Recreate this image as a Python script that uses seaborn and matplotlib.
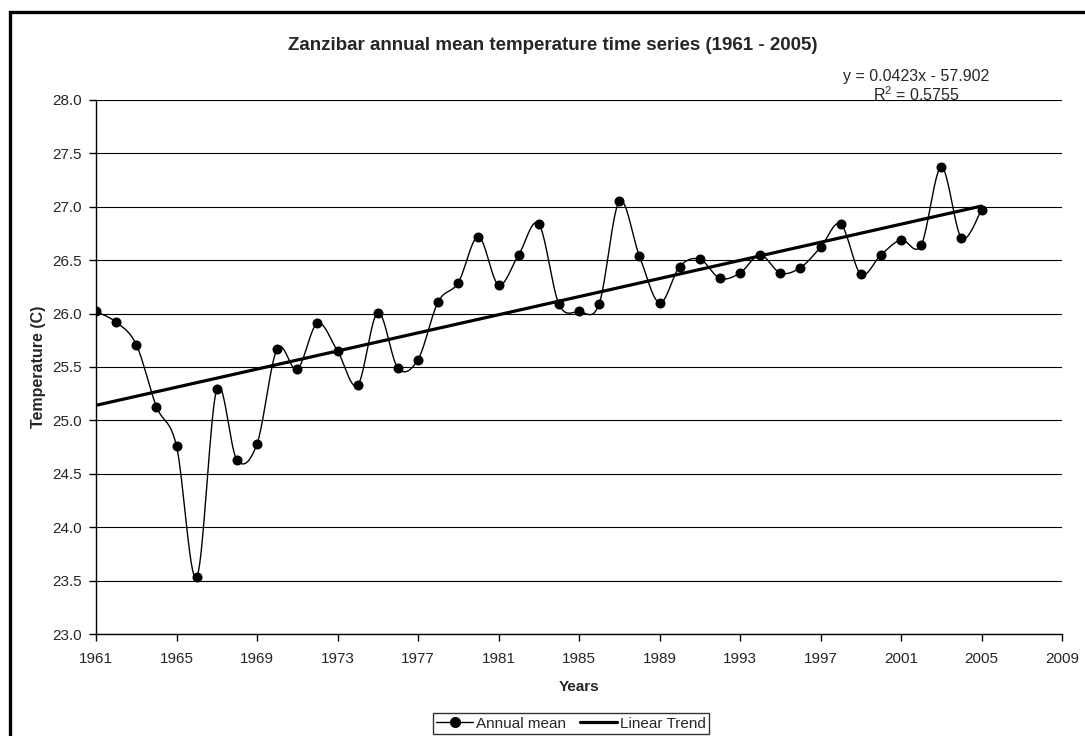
import numpy as np
import pandas as pd
import matplotlib
matplotlib.use("Agg")
import matplotlib.pyplot as plt
from matplotlib.lines import Line2D
from matplotlib.patches import Rectangle
import seaborn as sns

# ---- data ----
years = list(range(1961, 2006))
temps = [26.02, 25.92, 25.71, 25.13, 24.76, 23.53, 25.29, 24.63, 24.78, 25.67,
         25.48, 25.91, 25.65, 25.33, 26.01, 25.49, 25.57, 26.11, 26.29, 26.72,
         26.27, 26.55, 26.84, 26.09, 26.02, 26.09, 27.05, 26.54, 26.10, 26.44,
         26.51, 26.33, 26.38, 26.55, 26.38, 26.43, 26.62, 26.84, 26.37, 26.55,
         26.69, 26.64, 27.37, 26.71, 26.97]
x_ticks = list(range(1961, 2010, 4))
y_ticks = [23.0, 23.5, 24.0, 24.5, 25.0, 25.5, 26.0, 26.5, 27.0, 27.5, 28.0]
title = "Zanzibar annual mean temperature time series (1961 - 2005)"
eq_text = "y = 0.0423x - 57.902"
r2_text = "R$^2$ = 0.5755"

df = pd.DataFrame({"Year": years, "Temp": temps})

sns.set_style("white")
plt.rcParams["font.family"] = ["Liberation Sans", "DejaVu Sans"]
plt.rcParams["mathtext.fontset"] = "custom"
plt.rcParams["mathtext.rm"] = "Liberation Sans"

W, H = 1085, 736
fig = plt.figure(figsize=(W / 100, H / 100), dpi=100)
ax = fig.add_axes([96 / W, 1 - 634 / H, (1062 - 96) / W, (634 - 100) / H])


def catmull_rom(xs, ys, n=20):
    xs = np.asarray(xs, float)
    ys = np.asarray(ys, float)
    px = np.concatenate([[xs[0]], xs, [xs[-1]]])
    py = np.concatenate([[ys[0]], ys, [ys[-1]]])
    ox, oy = [], []
    t = np.linspace(0, 1, n, endpoint=False)
    for i in range(1, len(px) - 2):
        p0x, p1x, p2x, p3x = px[i - 1], px[i], px[i + 1], px[i + 2]
        p0y, p1y, p2y, p3y = py[i - 1], py[i], py[i + 1], py[i + 2]
        c1x = p1x + (p2x - p0x) / 6
        c1y = p1y + (p2y - p0y) / 6
        c2x = p2x - (p3x - p1x) / 6
        c2y = p2y - (p3y - p1y) / 6
        bx = (1 - t) ** 3 * p1x + 3 * (1 - t) ** 2 * t * c1x + 3 * (1 - t) * t ** 2 * c2x + t ** 3 * p2x
        by = (1 - t) ** 3 * p1y + 3 * (1 - t) ** 2 * t * c1y + 3 * (1 - t) * t ** 2 * c2y + t ** 3 * p2y
        ox.extend(bx)
        oy.extend(by)
    ox.append(xs[-1])
    oy.append(ys[-1])
    return np.array(ox), np.array(oy)


sx, sy = catmull_rom(df["Year"], df["Temp"])
ax.plot(sx, sy, color="black", lw=1.0, zorder=3)
sns.scatterplot(data=df, x="Year", y="Temp", color="black", s=52, edgecolor="black",
                linewidth=0, ax=ax, zorder=4, legend=False)
sns.regplot(data=df, x="Year", y="Temp", scatter=False, ci=None, truncate=True,
            line_kws={"color": "black", "lw": 2.3, "zorder": 5}, ax=ax)

ax.set_xlim(1961, 2009)
ax.set_ylim(23, 28)
ax.set_xticks(x_ticks)
ax.set_yticks(y_ticks)
ax.set_yticklabels([f"{v:.1f}" for v in y_ticks])
ax.yaxis.grid(True, color="black", lw=0.8)
ax.xaxis.grid(False)
ax.set_axisbelow(True)
for s in ["top", "right"]:
    ax.spines[s].set_visible(False)
for s in ["left", "bottom"]:
    ax.spines[s].set_color("black")
    ax.spines[s].set_linewidth(1.0)
ax.tick_params(axis="both", which="major", direction="out", length=5, width=1,
               color="black", labelsize=11, bottom=True, left=True)
ax.tick_params(axis="x", pad=8)
ax.tick_params(axis="y", pad=5)
ax.set_xlabel("Years", fontsize=11, fontweight="bold", labelpad=10)
ax.set_ylabel("Temperature (C)", fontsize=11.5, fontweight="bold", labelpad=5)

fig.text(553 / W, 1 - 49.5 / H, title, ha="center", va="baseline", fontsize=13.5,
         fontweight="bold")
fig.text(916 / W, 1 - 80.7 / H, eq_text, ha="center", va="baseline", fontsize=11.5)
fig.text(916 / W, 1 - 100.7 / H, r2_text, ha="center", va="baseline", fontsize=11.5)

handles = [Line2D([0], [0], color="black", lw=1.0, marker="o", markersize=7),
           Line2D([0], [0], color="black", lw=2.3)]
leg = fig.legend(handles, ["Annual mean", "Linear Trend"], loc="center",
                 bbox_to_anchor=(571 / W, 1 - 723.5 / H), ncol=2, frameon=True,
                 fancybox=False, edgecolor="black", fontsize=11, handlelength=2.4,
                 handletextpad=0.2, columnspacing=0.9, borderpad=0.2, borderaxespad=0)
leg.get_frame().set_linewidth(1.0)

fig.patches.append(Rectangle((10 / W, -0.05), 1.2, 1 - 12 / H + 0.05,
                             transform=fig.transFigure, fill=False, edgecolor="black",
                             lw=2.4, zorder=10))

fig.savefig("out.png", dpi=100, facecolor="white")
